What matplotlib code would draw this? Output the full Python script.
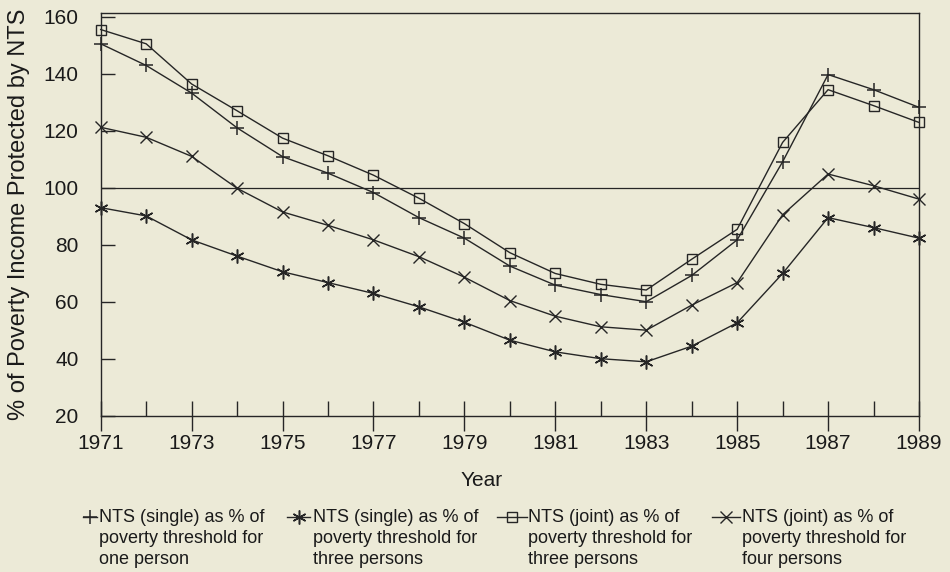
import matplotlib
matplotlib.use("Agg")
import matplotlib.pyplot as plt
from matplotlib.lines import Line2D

years = list(range(1971, 1990))
single_one = [150.5, 142.9, 133.2, 121, 110.9, 105.1, 98.3, 89.5, 82.3, 72.5, 65.8, 62.5, 60, 69.2, 81.7, 109.1, 139.7, 134.4, 128.2]
single_three = [93, 90.1, 81.7, 76, 70.5, 66.7, 62.9, 58.2, 52.8, 46.5, 42.4, 40, 38.9, 44.4, 52.6, 69.9, 89.5, 86, 82.3]
joint_three = [155.5, 150.5, 136.4, 127, 117.4, 111.2, 104.4, 96.3, 87.4, 77.2, 69.9, 66.1, 64.1, 74.9, 85.4, 115.9, 134.4, 128.8, 122.9]
joint_four = [121.2, 117.7, 111, 99.8, 91.5, 86.8, 81.7, 75.8, 68.6, 60.4, 54.9, 51.2, 50, 58.8, 66.7, 90.5, 104.8, 100.7, 96]

legend_labels = [
    ["NTS (single) as % of", "poverty threshold for", "one person"],
    ["NTS (single) as % of", "poverty threshold for", "three persons"],
    ["NTS (joint) as % of", "poverty threshold for", "three persons"],
    ["NTS (joint) as % of", "poverty threshold for", "four persons"],
]
major_years = list(range(1971, 1990, 2))
y_ticks = [20, 40, 60, 80, 100, 120, 140, 160]
reference_level = 100

BG = "#ECEAD7"
INK = "#262626"
plt.rcParams['font.family'] = ['Liberation Sans', 'DejaVu Sans']

W, H = 950, 572
fig = plt.figure(figsize=(W / 100, H / 100), dpi=100, facecolor=BG)
ax = fig.add_axes([100.7 / W, 1 - 415.7 / H, (919 - 100.7) / W, (415.7 - 13.3) / H])
ax.set_facecolor(BG)

styles = [
    dict(marker='+', ms=10, mew=1.1, mfc='none'),
    dict(marker=(6, 2, 0), ms=10, mew=1.1, mfc='none'),
    dict(marker='s', ms=6.5, mew=1.0, mfc='none'),
    dict(marker='x', ms=8, mew=1.0, mfc='none'),
]
series = [single_one, single_three, joint_three, joint_four]
for vals, st in zip(series, styles):
    ax.plot(years, vals, color=INK, lw=1.0, mec=INK, clip_on=False, zorder=3, **st)

ax.axhline(reference_level, color=INK, lw=0.9, zorder=2)

ax.set_xlim(1971, 1989)
ax.set_ylim(20, 161.2)
ax.set_xticks(major_years)
ax.set_xticks(years, minor=True)
ax.set_yticks(y_ticks)
for s in ax.spines.values():
    s.set_color(INK)
    s.set_linewidth(1.0)
ax.tick_params(axis='x', which='major', direction='inout', length=22, width=1.0, color=INK,
               labelsize=15, labelcolor='#1a1a1a', pad=2)
ax.tick_params(axis='x', which='minor', direction='in', length=11, width=1.0, color=INK)
ax.tick_params(axis='y', direction='in', length=10, width=1.0, color=INK,
               labelsize=15, labelcolor='#1a1a1a', pad=16)

fig.text(482 / W, 1 - 480 / H, "Year", ha='center', va='center', fontsize=15, color='#1a1a1a')
fig.text(19 / W, 1 - 214 / H, "% of Poverty Income Protected by NTS", rotation=90,
         ha='center', va='center', fontsize=17, color='#1a1a1a')

# legend drawn manually
marker_x = [(83, 97), (287, 310), (497, 527), (712, 740)]
text_x = [99, 313, 528, 742]
line_y = [517, 538.5, 560]
for (x0, x1), tx, lab, st in zip(marker_x, text_x, legend_labels, styles):
    yy = 1 - line_y[0] / H
    fig.add_artist(Line2D([x0 / W, x1 / W], [yy, yy], color=INK, lw=1.0, transform=fig.transFigure))
    fig.add_artist(Line2D([(x0 + x1) / 2 / W], [yy], color=INK, mec=INK, ls='none',
                          transform=fig.transFigure, **st))
    for ly, s in zip(line_y, lab):
        fig.text(tx / W, 1 - ly / H, s, ha='left', va='center', fontsize=13, color='#1a1a1a')

fig.savefig("out.png", dpi=100, facecolor=BG)
